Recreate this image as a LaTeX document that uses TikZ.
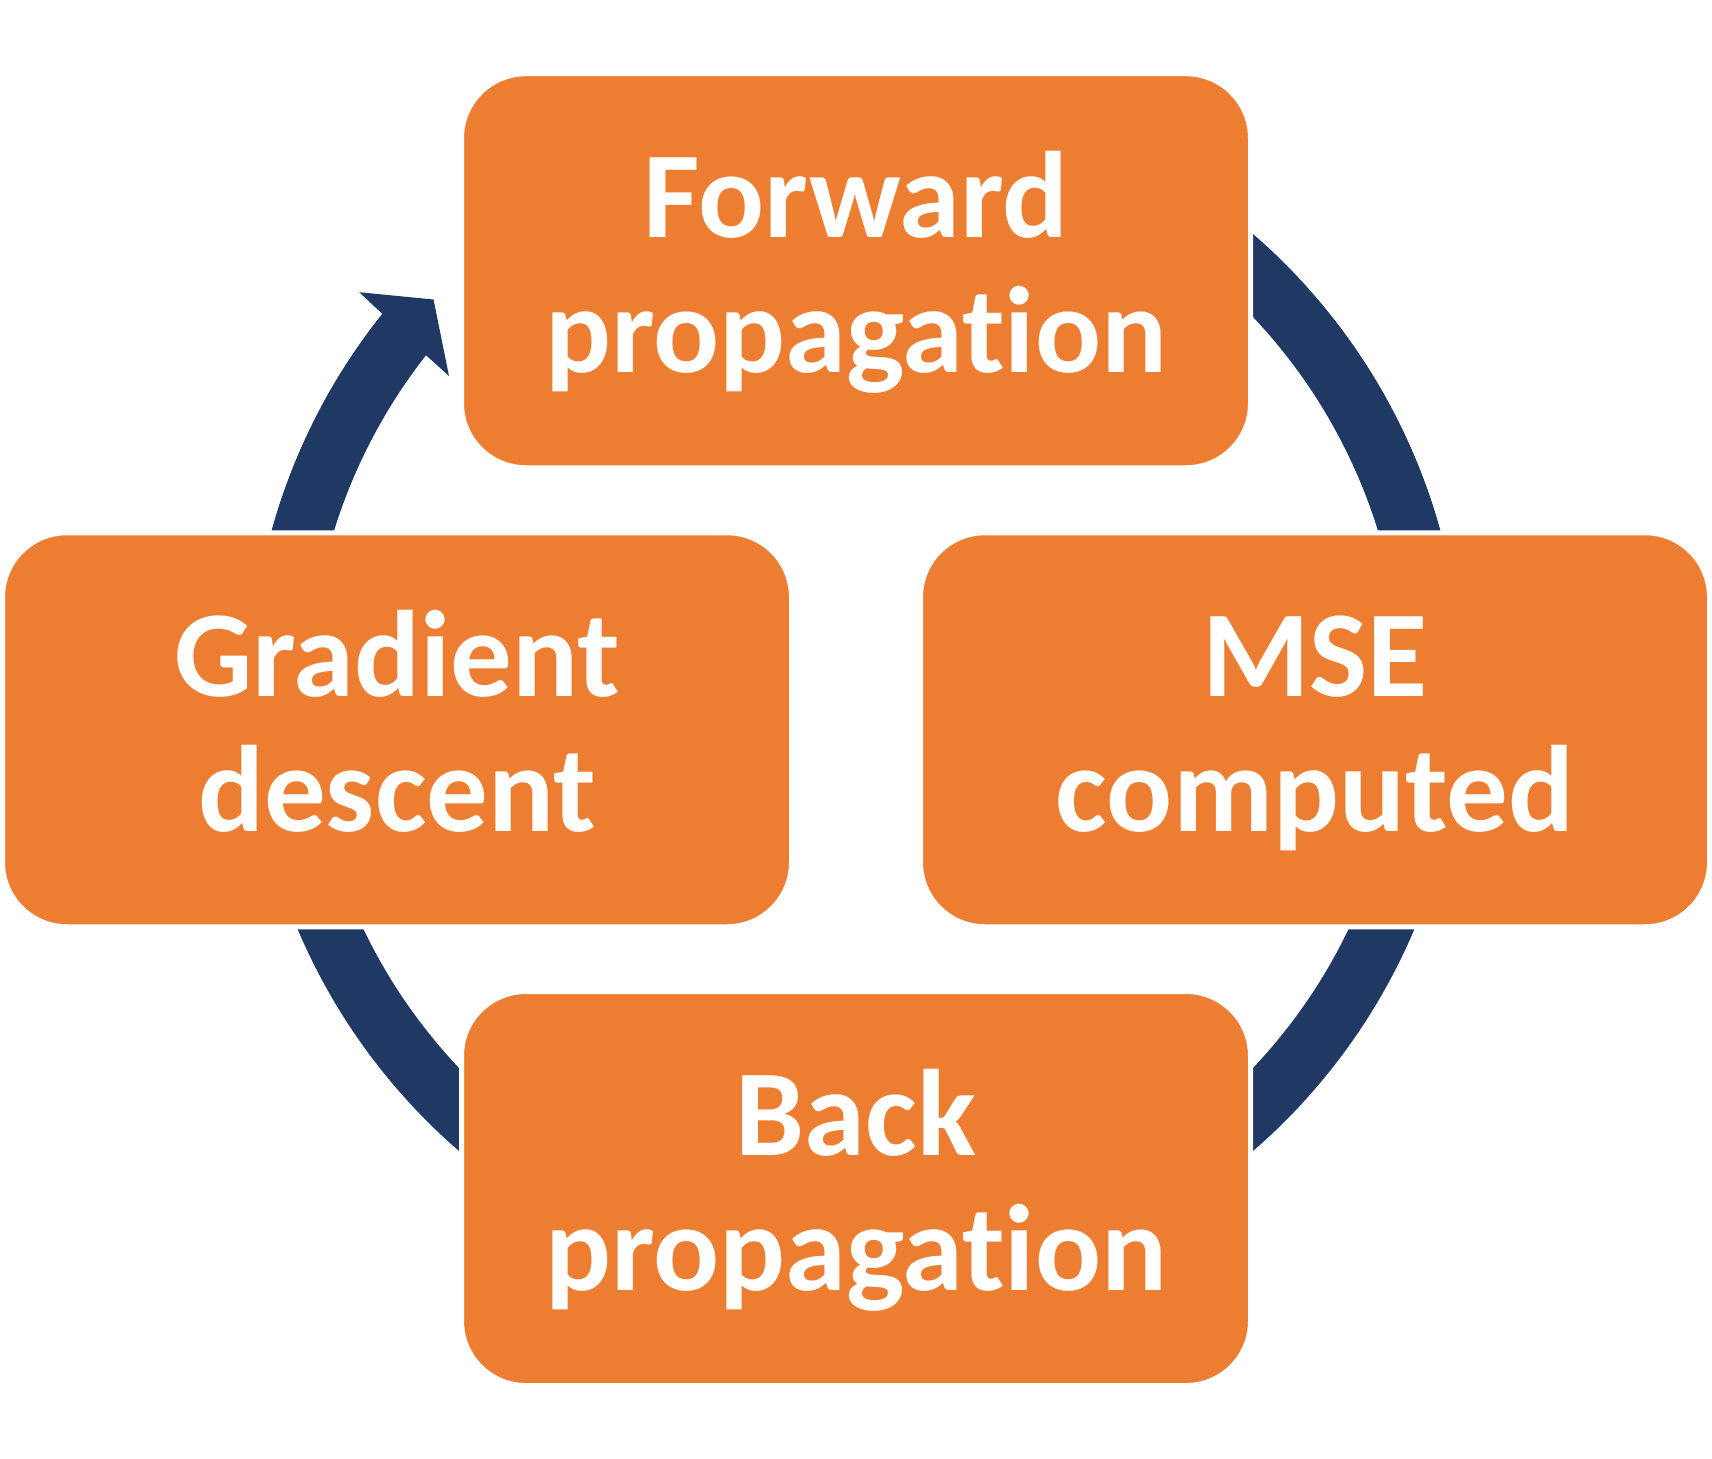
\documentclass[tikz,border=0pt]{standalone}
\usepackage{fontspec}
\setmainfont{Carlito}[Ligatures={NoCommon,NoRare,NoDiscretionary}]
\usetikzlibrary{backgrounds}
\definecolor{orng}{HTML}{ED7D31}
\definecolor{navy}{HTML}{203864}
\newcommand\stagefont{\fontsize{123}{135}\selectfont\bfseries}
\newcommand\ringcx{856}
\newcommand\ringcy{692.5}
\newcommand\rout{606.5}
\newcommand\rin{546.5}
\newcommand\topstrut{\rule{0pt}{120pt}}
\newcommand\botstrut{\rule[-51.5pt]{0pt}{51.5pt}}
\begin{document}
\begin{tikzpicture}[x=1pt,y=-1pt,
  stage/.style={rectangle, rounded corners=64.5pt, fill=orng, draw=white,
    line width=5pt, minimum width=789pt, minimum height=394pt, inner sep=0pt,
    text=white, align=center, font=\stagefont},
  ring/.style={fill=navy}]
\useasboundingbox (0,0) rectangle (1712,1458);
\coordinate (ctr) at (\ringcx,\ringcy);
\node[stage] (fwd)  at (856,270.75) {\topstrut Forward\\propagation\botstrut};
\node[stage] (mse)  at (1315,729.75) {\topstrut MSE\\computed\botstrut};
\node[stage] (back) at (856,1188.5) {\topstrut Back\\propagation\botstrut};
\node[stage] (grad) at (397,729.75) {\topstrut Gradient\\descent\botstrut};
\begin{pgfonlayer}{background}
% fwd -> mse
\fill[ring] plot[domain=-60:-5,samples=60] ({\ringcx+\rout*cos(\x)},{\ringcy+\rout*sin(\x)})
  -- plot[domain=-5:-60,samples=60] ({\ringcx+\rin*cos(\x)},{\ringcy+\rin*sin(\x)}) -- cycle;
% mse -> back
\fill[ring] plot[domain=5:60,samples=60] ({\ringcx+\rout*cos(\x)},{\ringcy+\rout*sin(\x)})
  -- plot[domain=60:5,samples=60] ({\ringcx+\rin*cos(\x)},{\ringcy+\rin*sin(\x)}) -- cycle;
% back -> grad
\fill[ring] plot[domain=120:175,samples=60] ({\ringcx+\rout*cos(\x)},{\ringcy+\rout*sin(\x)})
  -- plot[domain=175:120,samples=60] ({\ringcx+\rin*cos(\x)},{\ringcy+\rin*sin(\x)}) -- cycle;
% grad -> fwd (with arrowhead)
\fill[ring] plot[domain=185:218.64,samples=40] ({\ringcx+\rout*cos(\x)},{\ringcy+\rout*sin(\x)})
  -- ({\ringcx+638*cos(218.86)},{\ringcy+638*sin(218.86)})
  -- ({\ringcx+577*cos(222.93)},{\ringcy+577*sin(222.93)})
  -- ({\ringcx+515.6*cos(217.87)},{\ringcy+515.6*sin(217.87)})
  -- plot[domain=218.11:185,samples=40] ({\ringcx+\rin*cos(\x)},{\ringcy+\rin*sin(\x)}) -- cycle;
\end{pgfonlayer}
\end{tikzpicture}
\end{document}
